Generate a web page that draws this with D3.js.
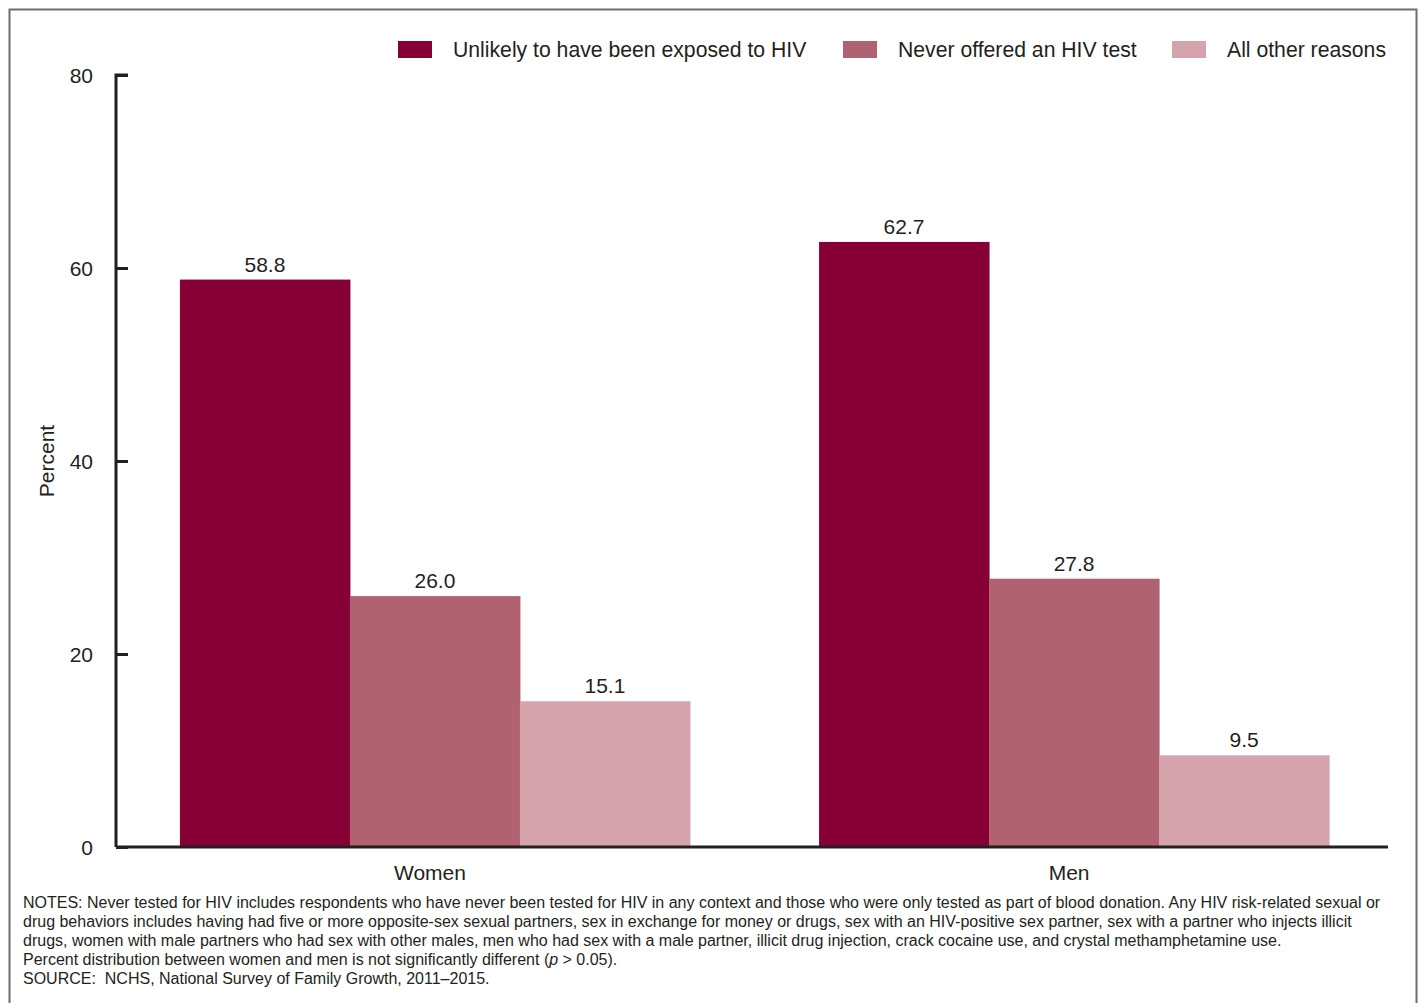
<!DOCTYPE html>
<html>
<head>
<meta charset="utf-8">
<script src="https://cdn.jsdelivr.net/npm/d3@7"></script>
<style>
  html, body { margin: 0; padding: 0; background: #fff; }
  svg { display: block; font-family: "Liberation Sans", Arial, sans-serif; }
  text { white-space: pre; }
</style>
</head>
<body>
<svg id="chart" width="1425" height="1003"></svg>
<script>
const categories = ["Women", "Men"];
const seriesNames = ["Unlikely to have been exposed to HIV", "Never offered an HIV test", "All other reasons"];
const seriesColors = ["#860036", "#b06270", "#d5a3ab"];
const unlikelyExposed = [58.8, 62.7];
const neverOffered = [26.0, 27.8];
const otherReasons = [15.1, 9.5];
const yTicks = [0, 20, 40, 60, 80];
const yLabel = "Percent";
const notes = [
  "NOTES: Never tested for HIV includes respondents who have never been tested for HIV in any context and those who were only tested as part of blood donation. Any HIV risk-related sexual or",
  "drug behaviors includes having had five or more opposite-sex sexual partners, sex in exchange for money or drugs, sex with an HIV-positive sex partner, sex with a partner who injects illicit",
  "drugs, women with male partners who had sex with other males, men who had sex with a male partner, illicit drug injection, crack cocaine use, and crystal methamphetamine use."
];
const sourceLine = "SOURCE:  NCHS, National Survey of Family Growth, 2011\u20132015.";

const series = [unlikelyExposed, neverOffered, otherReasons];
const svg = d3.select("#chart");
const textColor = "#231f20";

// outer frame
svg.append("rect").attr("x", 9.5).attr("y", 9.5).attr("width", 1407).attr("height", 1010)
  .attr("fill", "none").attr("stroke", "#6d6d6d").attr("stroke-width", 2);

const x0 = d3.scaleBand().domain(categories).range([116, 1393]).paddingInner(0.202).paddingOuter(0.1);
const x1 = d3.scaleBand().domain(d3.range(series.length)).range([0, x0.bandwidth()]);
const y = d3.scaleLinear().domain([0, 80]).range([847, 75]);

// bars
categories.forEach((cat, ci) => {
  const g = svg.append("g").attr("transform", `translate(${x0(cat)},0)`);
  series.forEach((vals, si) => {
    g.append("rect")
      .attr("x", x1(si)).attr("width", x1.bandwidth() + 0.5)
      .attr("y", y(vals[ci])).attr("height", y(0) - y(vals[ci]))
      .attr("fill", seriesColors[si]);
    g.append("text")
      .attr("x", x1(si) + x1.bandwidth() / 2).attr("y", y(vals[ci]) - 8)
      .attr("text-anchor", "middle").attr("font-size", 21).attr("fill", textColor)
      .text(vals[ci].toFixed(1));
  });
});

// y axis
const yAxis = d3.axisRight(y).tickValues(yTicks).tickSize(12).tickFormat("");
const ya = svg.append("g").attr("transform", "translate(116,0)").call(yAxis);
ya.select(".domain").attr("stroke", textColor).attr("stroke-width", 3).attr("d", "M12,75H0V847");
ya.selectAll(".tick line").attr("stroke", textColor).attr("stroke-width", 3);
yTicks.forEach(t => {
  svg.append("text").attr("x", 93).attr("y", y(t) + 8).attr("text-anchor", "end")
    .attr("font-size", 21).attr("fill", textColor).text(t);
});

// x axis
const xAxis = d3.axisBottom(x0).tickSize(0).tickPadding(18);
const xa = svg.append("g").attr("transform", "translate(0,847)").call(xAxis);
xa.select(".domain").attr("stroke", textColor).attr("stroke-width", 3).attr("d", "M116,0H1388");
xa.selectAll(".tick text").attr("font-size", 21).attr("fill", textColor)
  .attr("font-family", "Liberation Sans, Arial, sans-serif").attr("dx", -5);

// y label
svg.append("text").attr("transform", "translate(54,461) rotate(-90)")
  .attr("text-anchor", "middle").attr("font-size", 21).attr("fill", textColor).text(yLabel);

// legend
const legendX = [398, 843, 1172];
seriesNames.forEach((name, i) => {
  svg.append("rect").attr("x", legendX[i]).attr("y", 41).attr("width", 34).attr("height", 17)
    .attr("fill", seriesColors[i]);
  svg.append("text").attr("x", legendX[i] + 55).attr("y", 57).attr("font-size", 21.2)
    .attr("fill", textColor).text(name);
});

// notes
const noteY = [908, 927, 946];
notes.forEach((line, i) => {
  svg.append("text").attr("x", 23).attr("y", noteY[i]).attr("font-size", 16).attr("fill", textColor).text(line);
});
const pLine = svg.append("text").attr("x", 23).attr("y", 965).attr("font-size", 16).attr("fill", textColor);
pLine.append("tspan").text("Percent distribution between women and men is not significantly different (");
pLine.append("tspan").attr("font-style", "italic").text("p");
pLine.append("tspan").text(" > 0.05).");
svg.append("text").attr("x", 23).attr("y", 984).attr("font-size", 16).attr("fill", textColor).text(sourceLine);
</script>
</body>
</html>
